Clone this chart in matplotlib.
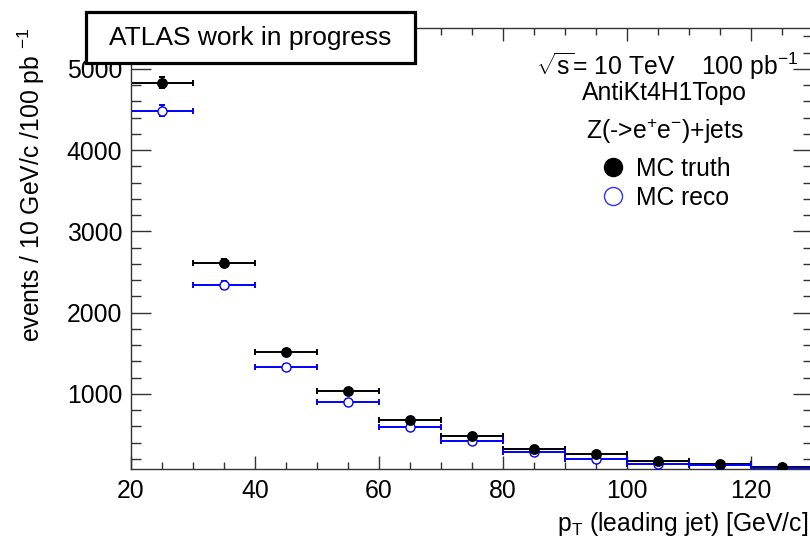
import matplotlib
matplotlib.use('Agg')
import matplotlib.pyplot as plt
import matplotlib.patches as patches
from matplotlib.lines import Line2D
from matplotlib.ticker import MultipleLocator

plt.rcParams['font.family'] = ['Liberation Sans', 'DejaVu Sans']
plt.rcParams['mathtext.fontset'] = 'custom'
plt.rcParams['mathtext.rm'] = 'Liberation Sans'
plt.rcParams['mathtext.it'] = 'Liberation Sans:italic'
plt.rcParams['mathtext.bf'] = 'Liberation Sans:bold'

# leading jet pT bins (GeV/c)
bin_centers = [25, 35, 45, 55, 65, 75, 85, 95, 105, 115, 125]
bin_half = [5, 5, 5, 5, 5, 5, 5, 5, 5, 5, 5]

# MC truth
truth = [4830, 2611, 1517, 1037, 676, 484, 316, 254, 168, 131, 94]
truth_err = [68, 51, 39, 32, 26, 22, 18, 16, 13, 11, 10]

# MC reco
reco = [4486, 2337, 1332, 902, 587, 422, 279, 197, 131, 128, 84]
reco_err = [65, 48, 36, 30, 24, 21, 17, 14, 11, 11, 9]

W, H = 810, 544
fig = plt.figure(figsize=(W / 100, H / 100), dpi=100)
ax = fig.add_axes([130.7 / W, (H - 469) / H, (813 - 130.7) / W, (469 - 28.3) / H])

fs = 17.8

# error bars (lines only), then markers on top
ax.errorbar(bin_centers, truth, xerr=bin_half, yerr=truth_err, fmt='none',
            ecolor='black', elinewidth=1.4, capsize=2, capthick=1.4, zorder=2)
ax.errorbar(bin_centers, reco, xerr=bin_half, yerr=reco_err, fmt='none',
            ecolor='#0000ff', elinewidth=1.4, capsize=2, capthick=1.4, zorder=2.1)
ax.plot(bin_centers, reco, 'o', ms=6.5, mfc='white', mec='#0000ff', mew=1.0, zorder=3)
ax.plot(bin_centers, truth, 'o', ms=6.8, color='black', zorder=4)

ax.set_xlim(20, 130)
ax.set_ylim(75, 5500)
ax.xaxis.set_major_locator(MultipleLocator(20))
ax.xaxis.set_minor_locator(MultipleLocator(5))
ax.yaxis.set_major_locator(MultipleLocator(1000))
ax.yaxis.set_minor_locator(MultipleLocator(200))
ax.tick_params(axis='both', which='both', direction='in', top=True, right=True,
               labelsize=fs, color='#333333')
ax.tick_params(axis='x', which='major', length=9.4, width=1.0, pad=7)
ax.tick_params(axis='x', which='minor', length=4.8, width=1.0)
ax.tick_params(axis='y', which='major', length=14.4, width=1.0, pad=6)
ax.tick_params(axis='y', which='minor', length=7.2, width=1.0)
for sp in ax.spines.values():
    sp.set_linewidth(1.0)
    sp.set_color('#333333')

# axis titles (ROOT style: aligned to the axis end)
fig.text(808 / W, 1 - 524 / H, r'p$_{\mathrm{T}}$ (leading jet) [GeV/c]',
         ha='right', va='center', fontsize=fs)
fig.text(31 / W, 1 - 28 / H, r'events / 10 GeV/c /100 pb $^{-1}$',
         ha='center', va='top', rotation=90, fontsize=fs)

# annotations
fig.text(667 / W, 1 - 66 / H, r'$\sqrt{\mathrm{s}}$= 10 TeV    100 pb$^{-1}$',
         ha='center', va='center', fontsize=fs)
fig.text(664 / W, 1 - 93 / H, 'AntiKt4H1Topo', ha='center', va='center', fontsize=fs)
fig.text(665 / W, 1 - 131 / H, r'Z(->e$^{+}$e$^{-}$)+jets', ha='center', va='center', fontsize=fs)

handles = [
    Line2D([], [], ls='none', marker='o', ms=13, color='black'),
    Line2D([], [], ls='none', marker='o', ms=13, mfc='white', mec='#3030ff', mew=1.0),
]
fig.legend(handles, ['MC truth', 'MC reco'], loc='upper left',
           bbox_to_anchor=(601 / W, 1 - 157 / H), frameon=False, fontsize=fs,
           handlelength=1.0, handletextpad=0.4, labelspacing=0.2,
           borderpad=0, borderaxespad=0)

# ATLAS label box
box = patches.Rectangle((86 / W, 1 - 63 / H), (415 - 86) / W, (63 - 12) / H,
                        transform=fig.transFigure, facecolor='white',
                        edgecolor='black', linewidth=2.3, zorder=10)
fig.patches.append(box)
fig.text(250 / W, 1 - 38 / H, 'ATLAS work in progress', ha='center', va='center',
         fontsize=19, zorder=11)

fig.savefig('out.png', dpi=100)
